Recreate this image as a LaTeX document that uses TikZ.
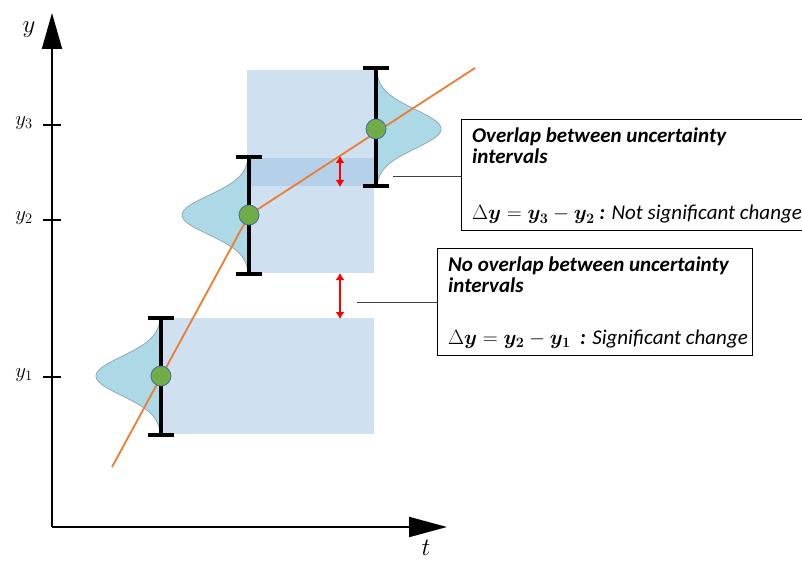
\documentclass[tikz,border=0pt]{standalone}
\usepackage{fontspec}
\usepackage{bm}
\newfontfamily\calib{Carlito}
\usetikzlibrary{arrows.meta}
\definecolor{band}{HTML}{CFE0F1}
\definecolor{bandov}{HTML}{B5D1EA}
\definecolor{gauss}{HTML}{ADD8E6}
\definecolor{gaussedge}{HTML}{8EA9B8}
\definecolor{dotg}{HTML}{70AD47}
\definecolor{dotedge}{HTML}{41719C}
\definecolor{trend}{HTML}{ED7D31}
\definecolor{callout}{HTML}{404040}
\tikzset{
  axis/.style={line width=2pt, black},
  tickmark/.style={line width=1.6pt, black},
  bar/.style={line width=4pt, black},
  gaussshape/.style={fill=gauss, draw=gaussedge, line width=0.8pt},
  dotnode/.style={circle, fill=dotg, draw=dotedge, line width=0.8pt, minimum size=20pt, inner sep=0pt},
  trendline/.style={trend, line width=1.8pt},
  redarr/.style={red, line width=2.2pt, {Latex[length=7pt,width=9pt]}-{Latex[length=7pt,width=9pt]}},
  calloutline/.style={callout, line width=0.9pt},
  infobox/.style={draw=black, line width=1.2pt, fill=white},
  boxtext/.style={anchor=base west, inner sep=0pt, font=\calib\fontsize{21}{24}\selectfont},
  ticklabel/.style={inner sep=0pt, font=\fontsize{21}{24}\selectfont},
}
\begin{document}
\begin{tikzpicture}[x=1pt,y=-1pt]
\useasboundingbox (0,0) rectangle (802,561);

% shaded intervals
\fill[band] (160,318) rectangle (374,434);
\fill[band] (247,70) rectangle (374,273);
\fill[bandov] (247,158) rectangle (374,186);

% gaussians
\draw[gaussshape] plot[domain=-58:58, samples=80, smooth] ({161-65*exp(-(\x*\x)/760)}, {376+\x}) -- cycle;
\draw[gaussshape] plot[domain=-58:58, samples=80, smooth] ({249-67*exp(-(\x*\x)/760)}, {215+\x}) -- cycle;
\draw[gaussshape] plot[domain=-60:57, samples=80, smooth] ({376+65*exp(-(\x*\x)/760)}, {129+\x}) -- cycle;

% points
\coordinate (p1) at (161,376);
\coordinate (p2) at (249,215);
\coordinate (p3) at (376,129);
\coordinate (ts) at (112,467);
\coordinate (te) at (475,68);

% trend line
\draw[trendline] (ts) -- (p2) -- (te);

% error bars
\coordinate (b1t) at (161,318); \coordinate (b1b) at (161,435);
\coordinate (b2t) at (249,157); \coordinate (b2b) at (249,274);
\coordinate (b3t) at (376,68);  \coordinate (b3b) at (376,186);
\foreach \t/\b in {b1t/b1b, b2t/b2b, b3t/b3b}{
  \draw[bar] (\t) -- (\b);
  \draw[bar] ([xshift=-13pt]\t) -- ([xshift=13pt]\t);
  \draw[bar] ([xshift=-13pt]\b) -- ([xshift=13pt]\b);
}

\node[dotnode] (d1) at (p1) {};
\node[dotnode] (d2) at (p2) {};
\node[dotnode] (d3) at (p3) {};

% red arrows
\coordinate (r1t) at (340,156); \coordinate (r1b) at (340,187);
\coordinate (r2t) at (340,273); \coordinate (r2b) at (340,319);
\draw[redarr] (r1t) -- (r1b);
\draw[redarr] (r2t) -- (r2b);

% axes
\coordinate (o) at (52,527);
\coordinate (ytip) at (52,13);
\coordinate (xtip) at (447,527);
\draw[axis, -{Triangle[length=36pt,width=20pt]}] (o) -- (ytip);
\draw[axis, -{Triangle[length=38pt,width=20pt]}] (o) -- (xtip);
\node[font=\fontsize{30}{34}\selectfont] (ylab) at (29,30) {$y$};
\node[font=\fontsize{28}{32}\selectfont] (tlab) at (426,548) {$t$};

\draw[tickmark] (43,125) -- (61,125);
\draw[tickmark] (43,220) -- (61,220);
\draw[tickmark] (43,377) -- (61,377);
\node[ticklabel] (ly3) at (24,123) {$y_3$};
\node[ticklabel] (ly2) at (24,218) {$y_2$};
\node[ticklabel] (ly1) at (24,375) {$y_1$};

% boxes
\node[infobox, anchor=north west, minimum width=350pt, minimum height=111pt] (box1) at (461,119) {};
\node[infobox, anchor=north west, minimum width=315pt, minimum height=107pt] (box2) at (437,248) {};

\node[boxtext] (t11) at (472,143) {\bfseries\itshape Overlap between uncertainty};
\node[boxtext] (t12) at (472,164) {\bfseries\itshape intervals};
\node[boxtext] (t13) at (472,220) {\itshape $\Delta\bm{y} = \bm{y}_{\bm{3}} - \bm{y}_{\bm{2}}$ \textbf{:} Not significant change};

\node[boxtext] (t21) at (448,271) {\bfseries\itshape No overlap between uncertainty};
\node[boxtext] (t22) at (448,292) {\bfseries\itshape intervals};
\node[boxtext] (t23) at (448,344) {\itshape $\Delta\bm{y} = \bm{y}_{\bm{2}} - \bm{y}_{\bm{1}}$ \ \textbf{:} Significant change};

% callout lines
\coordinate (c1) at (393,176);
\coordinate (c2) at (357,302);
\draw[calloutline] (c1) -- (c1 -| box1.west);
\draw[calloutline] (c2) -- (c2 -| box2.west);
\end{tikzpicture}
\end{document}
